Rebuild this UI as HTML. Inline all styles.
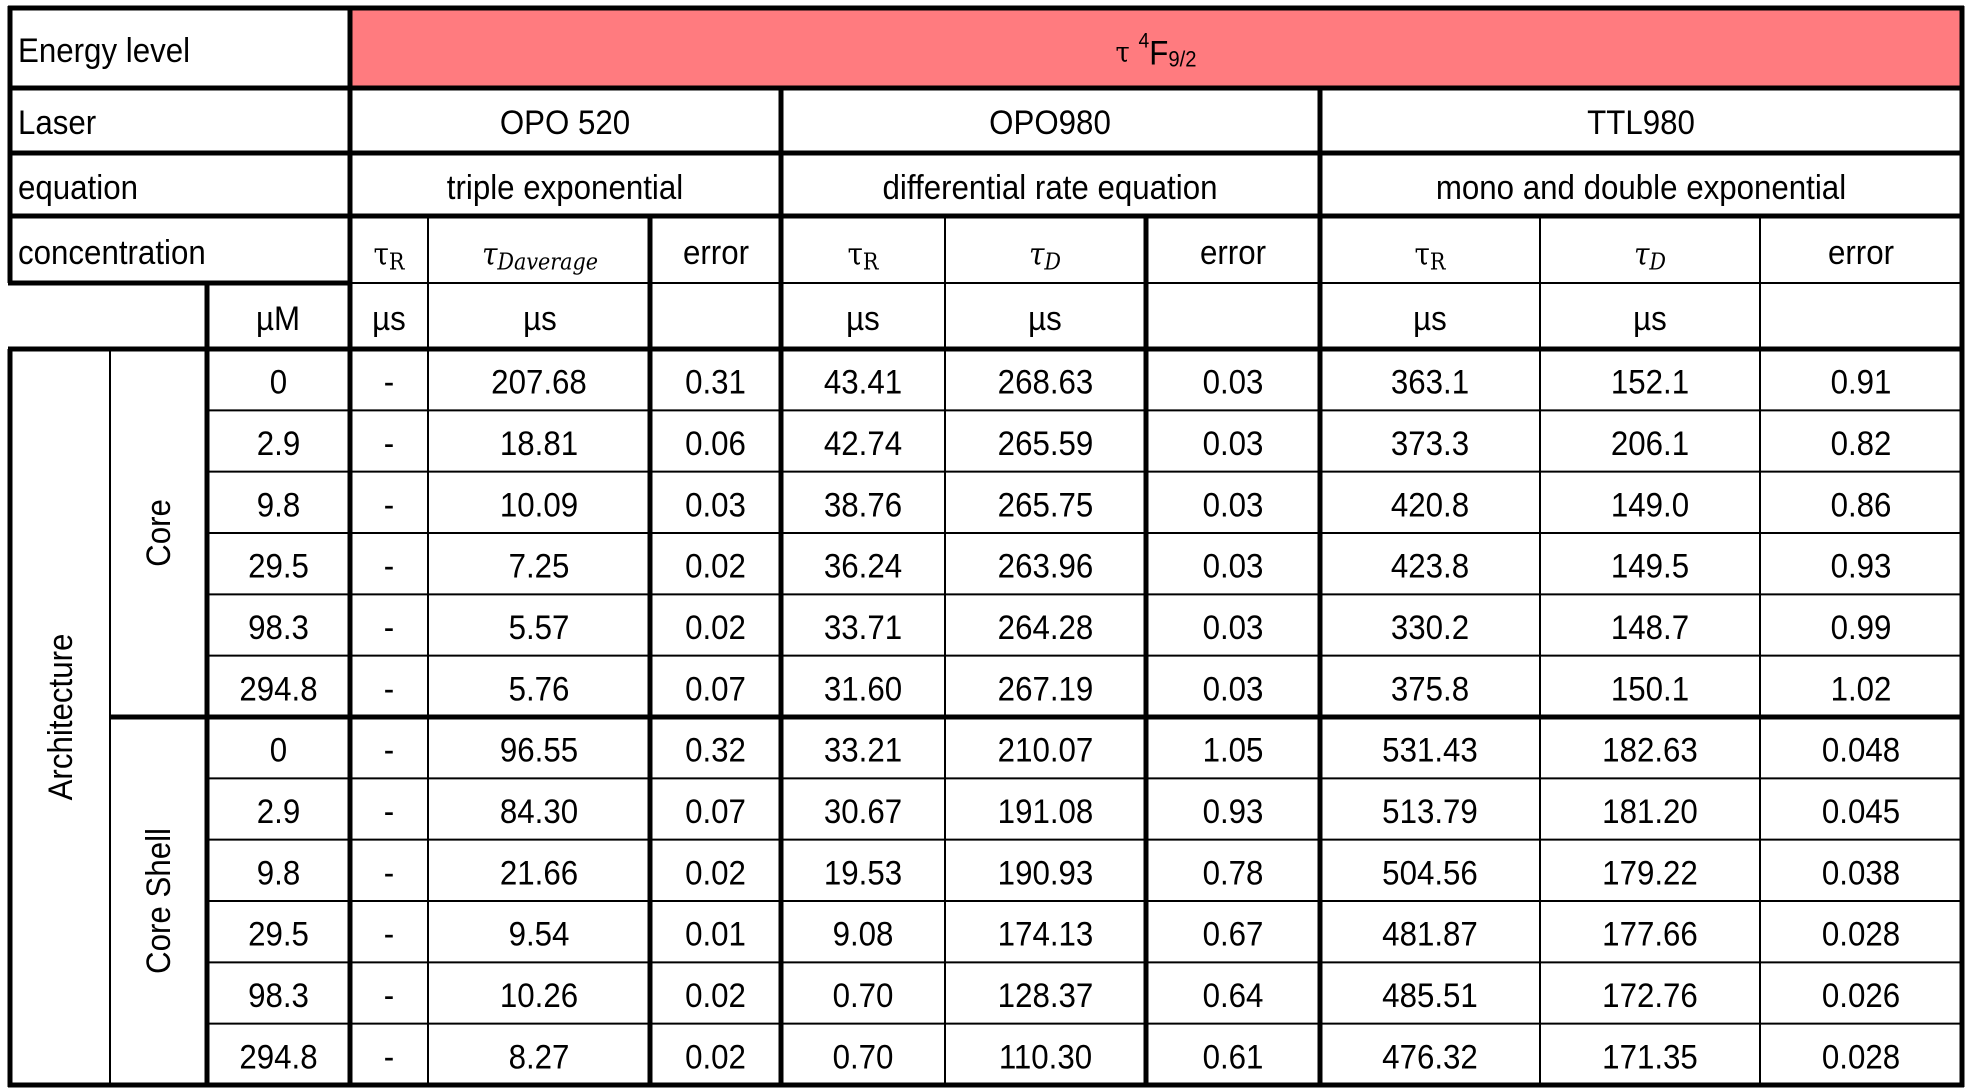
<!DOCTYPE html>
<html><head><meta charset="utf-8"><style>
html,body{margin:0;padding:0;background:#fff;}
svg{display:block;font-family:"Liberation Sans",Arial,sans-serif;}
</style></head><body>
<svg id="t" width="1970" height="1090" viewBox="0 0 1970 1090"></svg>
<script>
const concentrations = ["0","2.9","9.8","29.5","98.3","294.8","0","2.9","9.8","29.5","98.3","294.8"];
const opo520TauR = ["-","-","-","-","-","-","-","-","-","-","-","-"];
const opo520TauD = ["207.68","18.81","10.09","7.25","5.57","5.76","96.55","84.30","21.66","9.54","10.26","8.27"];
const opo520Err = ["0.31","0.06","0.03","0.02","0.02","0.07","0.32","0.07","0.02","0.01","0.02","0.02"];
const opo980TauR = ["43.41","42.74","38.76","36.24","33.71","31.60","33.21","30.67","19.53","9.08","0.70","0.70"];
const opo980TauD = ["268.63","265.59","265.75","263.96","264.28","267.19","210.07","191.08","190.93","174.13","128.37","110.30"];
const opo980Err = ["0.03","0.03","0.03","0.03","0.03","0.03","1.05","0.93","0.78","0.67","0.64","0.61"];
const ttlTauR = ["363.1","373.3","420.8","423.8","330.2","375.8","531.43","513.79","504.56","481.87","485.51","476.32"];
const ttlTauD = ["152.1","206.1","149.0","149.5","148.7","150.1","182.63","181.20","179.22","177.66","172.76","171.35"];
const ttlErr = ["0.91","0.82","0.86","0.93","0.99","1.02","0.048","0.045","0.038","0.028","0.026","0.028"];

const svg = document.getElementById('t');
const NS = 'http://www.w3.org/2000/svg';
const FS = 34, SX = 0.92;
function mk(tag, attrs){ const e=document.createElementNS(NS,tag); for(const k in attrs) e.setAttribute(k,attrs[k]); svg.appendChild(e); return e; }
function line(x1,y1,x2,y2,w,name){ const e=mk('line',{x1,y1,x2,y2,stroke:'#000','stroke-width':w});
 
 
 return e; }
function txt(x,y,s,name,opts){ opts=opts||{};
 const tr = 'translate('+x+' '+y+')' + (opts.rot?' rotate(-90)':'') + ' scale('+SX+' 1)';
 const e=mk('text',{x:0,y:0,transform:tr,'font-size':opts.fs||FS,'text-anchor':opts.anchor||'middle','dominant-baseline':'central',fill:'#000'});
 e.textContent=s;
 
 
 return e; }

const rowTop = 349, rowH = (1085-349)/12;
function ry(i){ return rowTop + i*rowH; }
const X = [10,110,207,350,428,650,781,945,1146,1320,1540,1760,1962];

const red = mk('rect',{x:350,y:8,width:1612,height:80,fill:'#FF7B7F'});



txt(18,50,'Energy level','energy-level-label',{anchor:'start'});
const title = mk('text',{x:0,y:0,transform:'translate(1156 52) scale('+SX+' 1)','font-size':FS,'text-anchor':'middle','dominant-baseline':'central'});
title.innerHTML='<tspan font-family="DejaVu Serif, serif" font-size="28">τ</tspan> <tspan dy="-11" font-size="21">4</tspan><tspan dy="11">F</tspan><tspan dy="7" font-size="22">9/2</tspan>';


txt(18,122,'Laser','laser-label',{anchor:'start'});
txt(565,122,'OPO 520','laser-opo520');
txt(1050,122,'OPO980','laser-opo980');
txt(1641,122,'TTL980','laser-ttl980');
txt(18,187,'equation','equation-label',{anchor:'start'});
txt(565,187,'triple exponential','equation-opo520');
txt(1050,187,'differential rate equation','equation-opo980');
txt(1641,187,'mono and double exponential','equation-ttl980');
txt(18,252,'concentration','concentration-label',{anchor:'start'});

function tauHead(cx,sub,name,italic){
 const e=mk('text',{x:0,y:0,transform:'translate('+cx+' 254) scale(0.9 1)','font-size':31,'text-anchor':'middle','dominant-baseline':'central','font-family':'DejaVu Serif, Liberation Serif, serif'});
 if(italic) e.innerHTML='<tspan font-style="italic">τ</tspan><tspan font-style="italic" font-size="23" dy="8">'+sub+'</tspan>';
 else e.innerHTML='<tspan>τ</tspan><tspan font-size="23" dy="8">'+sub+'</tspan>';
 
 
}
tauHead(389,'R','tau-r-opo520',false);
tauHead(540,'Daverage','tau-daverage-opo520',true);
txt(716,252,'error','error-opo520-header');
tauHead(863,'R','tau-r-opo980',false);
tauHead(1045,'D','tau-d-opo980',true);
txt(1233,252,'error','error-opo980-header');
tauHead(1430,'R','tau-r-ttl980',false);
tauHead(1650,'D','tau-d-ttl980',true);
txt(1861,252,'error','error-ttl980-header');

txt(278,318,'µM','unit-um');
[[389,'unit-opo520-tau-r'],[540,'unit-opo520-tau-d'],[863,'unit-opo980-tau-r'],[1045,'unit-opo980-tau-d'],[1430,'unit-ttl980-tau-r'],[1650,'unit-ttl980-tau-d']].forEach(u=>txt(u[0],318,'µs',u[1]));

const cols = [concentrations,opo520TauR,opo520TauD,opo520Err,opo980TauR,opo980TauD,opo980Err,ttlTauR,ttlTauD,ttlErr];
const colNames = ['concentration','opo520-tau-r','opo520-tau-d','opo520-error','opo980-tau-r','opo980-tau-d','opo980-error','ttl980-tau-r','ttl980-tau-d','ttl980-error'];
for(let c=0;c<cols.length;c++){
 const cx=(X[c+2]+X[c+3])/2;
 for(let r=0;r<cols[c].length;r++){
  txt(cx, ry(r)+rowH/2+2, cols[c][r], colNames[c]+'-cell');
 }
}
txt(60,717,'Architecture','architecture-label',{rot:true});
txt(158,533,'Core','core-label',{rot:true});
txt(158,901,'Core Shell','core-shell-label',{rot:true});

line(8,8,1964,8,5,'top-border');
line(8,88,1964,88,5,'row-line');
line(8,153,1964,153,5,'row-line');
line(8,216,1964,216,5,'row-line');
line(8,283,352,283,5,'row-line');
line(350,283,1964,283,2,'row-line');
line(8,349,1964,349,5,'row-line');
for(let r=1;r<12;r++){
 if(r===6){ line(110,ry(r),1964,ry(r),5,'group-line'); }
 else line(207,ry(r),1962,ry(r),2,'row-line');
}
line(8,1085,1964,1085,5,'bottom-border');

line(10,6,10,283,5,'left-border');
line(10,349,10,1087,5,'left-border');
line(1962,6,1962,1087,5,'right-border');
line(350,6,350,1087,5,'col-line');
line(110,349,110,1085,2,'col-line');
line(207,283,207,1087,5,'col-line');
line(428,216,428,1085,2,'col-line');
line(650,216,650,1085,5,'col-line');
line(781,88,781,1087,5,'col-line');
line(945,216,945,1085,2,'col-line');
line(1146,216,1146,1085,5,'col-line');
line(1320,88,1320,1087,5,'col-line');
line(1540,216,1540,1085,2,'col-line');
line(1760,216,1760,1085,2,'col-line');
</script>
</body></html>
